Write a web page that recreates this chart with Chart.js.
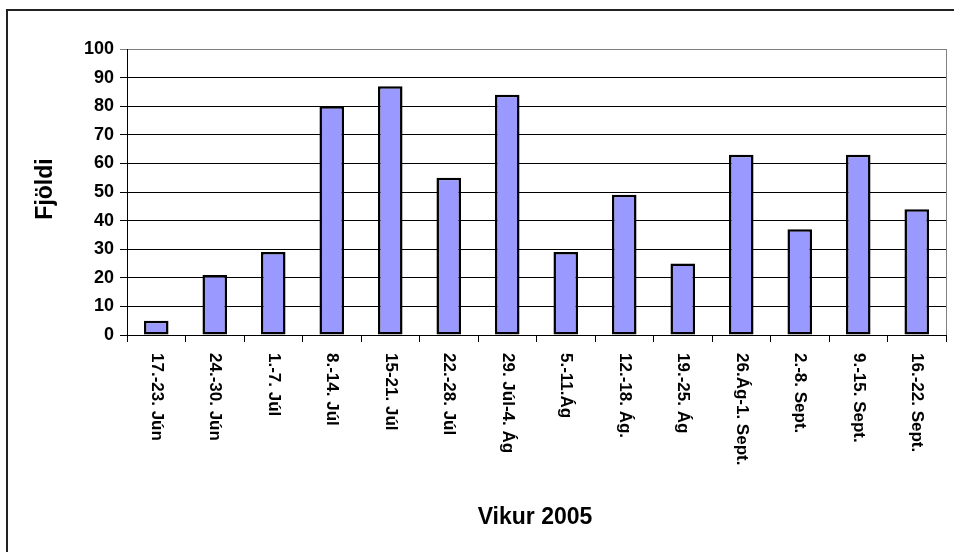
<!DOCTYPE html>
<html>
<head>
<meta charset="utf-8">
<script src="https://cdn.jsdelivr.net/npm/chart.js@4.4.0/dist/chart.umd.min.js"></script>
<style>
    html, body { margin: 0; padding: 0; background: #fff; overflow: hidden; }
    #wrap { position: relative; width: 954px; height: 552px; }
    #frame { position: absolute; left: 6px; top: 9px; width: 1000px; height: 600px; border: 2px solid #222; }
    canvas { position: absolute; left: 0; top: 0; }
</style>
</head>
<body>
<div id="wrap">
    <div id="frame"></div>
    <canvas id="chart" width="954" height="552"></canvas>
</div>
<script>
// Weeks (Vikur 2005)
const weeks = ['17.-23. Jún', '24.-30. Jún', '1.-7. Júl', '8.-14. Júl', '15-21. Júl', '22.-28. Júl',
    '29. Júl-4. Ág', '5.-11.Ág', '12.-18. Ág.', '19.-25. Ág', '26.Ág-1. Sept.', '2.-8. Sept.',
    '9.-15. Sept.', '16.-22. Sept.'];
// Count per week (Fjöldi)
const counts = [5, 21, 29, 80, 87, 55, 84, 29, 49, 25, 63, 37, 63, 44];
const yMin = 0, yMax = 100, yStep = 10;

const FONT = 'Arial, "Liberation Sans", sans-serif';

// draws the rotated week labels, the axis titles and the plot border
const labelsPlugin = {
    id: 'labels',
    afterDraw(chart) {
        const ctx = chart.ctx;
        const area = chart.chartArea;
        const xs = chart.scales.x;
        ctx.save();

        // right edge of plot area
        ctx.strokeStyle = '#808080';
        ctx.lineWidth = 1;
        ctx.beginPath();
        ctx.moveTo(area.right + 0.5, area.top);
        ctx.lineTo(area.right + 0.5, area.bottom);
        ctx.stroke();

        ctx.fillStyle = '#000';
        ctx.font = 'bold 17px ' + FONT;
        ctx.textAlign = 'left';
        ctx.textBaseline = 'middle';
        weeks.forEach((w, i) => {
            const x = xs.getPixelForValue(i);
            ctx.save();
            ctx.translate(x, area.bottom + 18);
            ctx.rotate(Math.PI / 2);
            ctx.fillText(w, 0, 0);
            ctx.restore();
        });

        ctx.font = 'bold 23px ' + FONT;
        ctx.textAlign = 'center';
        ctx.fillText('Vikur 2005', 535, 518);

        ctx.save();
        ctx.translate(46, 189);
        ctx.rotate(-Math.PI / 2);
        ctx.fillText('Fjöldi', 0, 0);
        ctx.restore();

        ctx.restore();
    }
};

new Chart(document.getElementById('chart'), {
    type: 'bar',
    data: {
        labels: weeks,
        datasets: [{
            data: counts,
            backgroundColor: '#9999FF',
            borderColor: '#000',
            borderWidth: 2.5,
            borderSkipped: false,
            barPercentage: 0.42,
            categoryPercentage: 1
        }]
    },
    options: {
        responsive: false,
        animation: false,
        layout: { padding: { left: 0, top: 49, right: 8, bottom: 0 } },
        plugins: { legend: { display: false }, tooltip: { enabled: false } },
        scales: {
            x: {
                afterFit: s => { s.height = 217; },
                ticks: { display: false },
                grid: { offset: true, drawOnChartArea: false, drawTicks: true, tickLength: 7, color: '#000' },
                border: { color: '#000', width: 1 }
            },
            y: {
                min: yMin,
                max: yMax,
                afterFit: s => { s.width = 127; },
                ticks: { stepSize: yStep, color: '#000', padding: 6, font: { family: FONT, size: 18, weight: 'bold' } },
                grid: {
                    color: c => c.tick && c.tick.value === yMax ? '#808080' : '#000',
                    tickLength: 7,
                    lineWidth: 1
                },
                border: { color: '#000', width: 1 }
            }
        }
    },
    plugins: [labelsPlugin]
});
</script>
</body>
</html>
